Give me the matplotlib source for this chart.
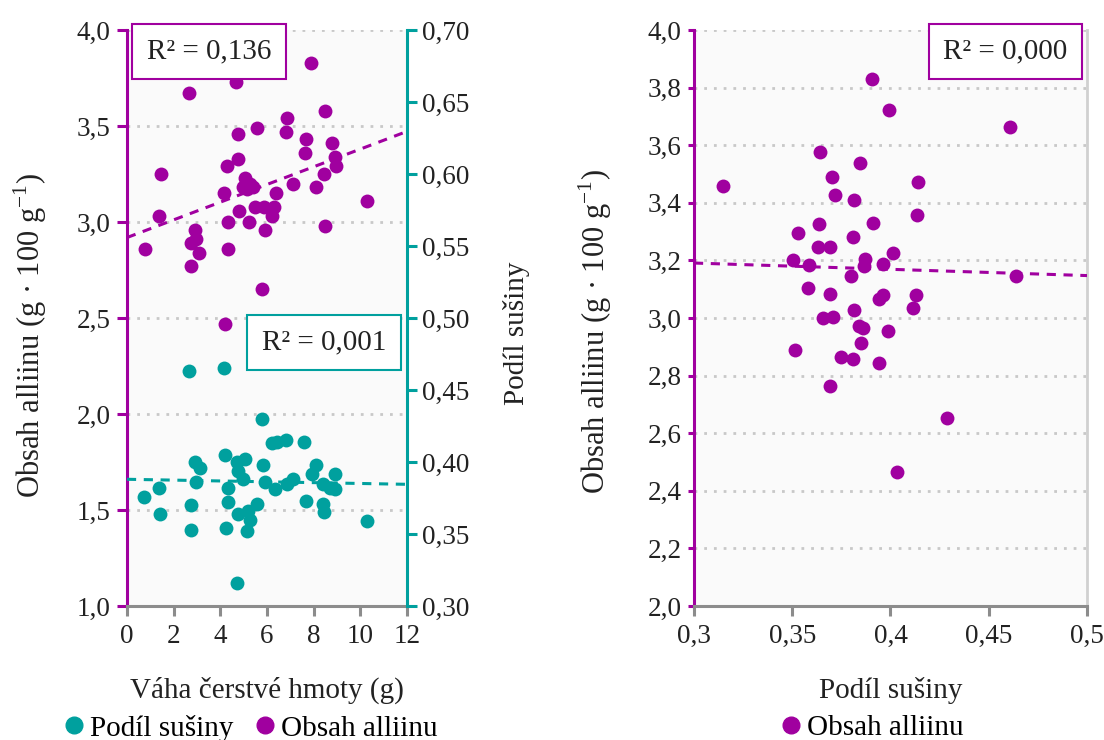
import numpy as np
import matplotlib
matplotlib.use('Agg')
import matplotlib.pyplot as plt
from matplotlib.ticker import FuncFormatter, MultipleLocator
from matplotlib.lines import Line2D

plt.rcParams['font.family'] = ['Liberation Serif', 'DejaVu Serif']
plt.rcParams['mathtext.fontset'] = 'custom'
plt.rcParams['mathtext.rm'] = 'Liberation Serif'

PURPLE = '#a0009f'
TEAL = '#00a09e'
GREY = '#8c8c8c'
TXT = '#222222'

# left panel: fresh weight (g) vs alliin content
weight_a = [7.87, 4.67, 2.66, 8.47, 6.87, 5.57, 6.80, 4.74, 7.67, 8.77, 7.62, 8.91,
            8.94, 4.74, 4.27, 8.44, 1.46, 7.13, 8.10, 5.06, 5.27, 4.98, 5.41, 5.13,
            4.14, 6.39, 10.27, 4.80, 5.49, 5.87, 6.30, 6.20, 5.23, 4.34, 5.90, 8.50,
            1.37, 0.77, 2.93, 2.96, 2.74, 3.09, 4.33, 2.74, 5.79, 4.21]
alliin_a = [3.83, 3.73, 3.67, 3.58, 3.54, 3.49, 3.47, 3.46, 3.43, 3.41, 3.36, 3.34,
            3.29, 3.33, 3.29, 3.25, 3.25, 3.20, 3.18, 3.23, 3.20, 3.18, 3.18, 3.17,
            3.15, 3.15, 3.11, 3.06, 3.08, 3.08, 3.08, 3.03, 3.00, 3.00, 2.96, 2.98,
            3.03, 2.86, 2.96, 2.91, 2.89, 2.84, 2.86, 2.77, 2.65, 2.47]

# left panel: fresh weight (g) vs dry matter share
weight_d = [2.66, 4.16, 5.77, 6.20, 6.41, 6.81, 7.59, 2.93, 3.13, 4.21, 4.70, 5.06,
            4.77, 4.99, 5.84, 5.91, 8.10, 7.92, 8.91, 2.96, 1.37, 0.74, 4.31, 6.34,
            6.84, 7.13, 8.41, 8.70, 8.91, 2.73, 4.31, 1.43, 4.77, 5.20, 5.56, 5.27,
            7.67, 8.41, 8.44, 2.73, 4.26, 5.13, 10.27, 4.73]
drymatter_d = [0.463, 0.465, 0.430, 0.413, 0.414, 0.415, 0.414, 0.400, 0.396, 0.405,
               0.400, 0.402, 0.394, 0.388, 0.398, 0.386, 0.398, 0.392, 0.392, 0.386,
               0.382, 0.376, 0.382, 0.381, 0.385, 0.388, 0.385, 0.382, 0.381, 0.370,
               0.372, 0.364, 0.364, 0.366, 0.371, 0.360, 0.373, 0.371, 0.365, 0.353,
               0.354, 0.352, 0.359, 0.316]

# right panel: dry matter share vs alliin content
drymatter_r = [0.3904, 0.3991, 0.4608, 0.3149, 0.3643, 0.3845, 0.3701, 0.4142, 0.3718,
               0.3814, 0.4133, 0.3913, 0.3531, 0.3636, 0.3807, 0.3633, 0.3692, 0.4011,
               0.3505, 0.3587, 0.3870, 0.3865, 0.3960, 0.3797, 0.4639, 0.3580, 0.3692,
               0.3960, 0.3943, 0.4130, 0.4116, 0.3814, 0.3658, 0.3709, 0.3841, 0.3858,
               0.3989, 0.3848, 0.3514, 0.3748, 0.3811, 0.3943, 0.3692, 0.4289, 0.4035]
alliin_r = [3.829, 3.722, 3.664, 3.458, 3.576, 3.537, 3.491, 3.473, 3.427, 3.410,
            3.357, 3.331, 3.294, 3.325, 3.282, 3.245, 3.248, 3.227, 3.201, 3.184,
            3.204, 3.181, 3.188, 3.146, 3.146, 3.105, 3.082, 3.080, 3.065, 3.080,
            3.034, 3.028, 3.001, 3.002, 2.972, 2.964, 2.956, 2.912, 2.889, 2.864,
            2.858, 2.843, 2.764, 2.652, 2.466]

r2_labels = ['R² = 0,136', 'R² = 0,001', 'R² = 0,000']

TICK_FS = 19.5
LAB_FS = 21


def comma(fmt):
    return FuncFormatter(lambda v, p: (fmt % v).replace('.', ','))


def style_axes(ax):
    ax.set_facecolor('#fafafa')
    ax.grid(axis='y', linestyle=(0, (1, 2.5)), color='#c8c8c8', linewidth=2)
    ax.set_axisbelow(True)
    ax.spines['top'].set_visible(False)
    ax.spines['bottom'].set_color(GREY)
    ax.spines['bottom'].set_linewidth(2.2)
    ax.spines['left'].set_color(PURPLE)
    ax.spines['left'].set_linewidth(2.2)
    ax.tick_params(axis='x', colors=GREY, width=2.2, length=7, labelsize=TICK_FS,
                   labelcolor=TXT, pad=6)
    ax.tick_params(axis='y', colors=PURPLE, width=2.2, length=7, labelsize=TICK_FS,
                   labelcolor=TXT, pad=5)


def trend(ax, x, y, color):
    k, q = np.polyfit(x, y, 1)
    lo, hi = ax.get_xlim()
    xs = np.array([lo, hi])
    ax.plot(xs, k * xs + q, color=color, linestyle=(0, (3, 2.5)), linewidth=2.2, zorder=3)


def r2_box(ax, x, y, label, ec, ha, va):
    ax.text(x, y, label, transform=ax.transAxes, fontsize=LAB_FS, va=va, ha=ha,
            color=TXT, zorder=6,
            bbox=dict(boxstyle='square,pad=0.5', fc='white', ec=ec, lw=1.5))


fig = plt.figure(figsize=(11.04, 7.4), dpi=100)

# ---- left panel
ax1 = fig.add_axes([0.115, 0.181, 0.2536, 0.7784])
style_axes(ax1)
ax1.set_xlim(0, 12)
ax1.set_ylim(1.0, 4.0)
ax1.xaxis.set_major_locator(MultipleLocator(2))
ax1.yaxis.set_major_locator(MultipleLocator(0.5))
ax1.yaxis.set_major_formatter(comma('%.1f'))
ax1.xaxis.set_major_formatter(comma('%g'))
ax1.spines['right'].set_visible(False)

ax2 = ax1.twinx()
ax2.set_ylim(0.30, 0.70)
ax2.yaxis.set_major_locator(MultipleLocator(0.05))
ax2.yaxis.set_major_formatter(comma('%.2f'))
for s in ['top', 'left', 'bottom']:
    ax2.spines[s].set_visible(False)
ax2.spines['right'].set_color(TEAL)
ax2.spines['right'].set_linewidth(2.2)
ax2.tick_params(axis='y', colors=TEAL, width=2.2, length=7, labelsize=TICK_FS,
                labelcolor=TXT, pad=4)

ax1.scatter(weight_a, alliin_a, s=100, color=PURPLE, zorder=4, linewidths=0)
trend(ax1, weight_a, alliin_a, PURPLE)
ax2.scatter(weight_d, drymatter_d, s=100, color=TEAL, zorder=4, linewidths=0)
trend(ax2, weight_d, drymatter_d, TEAL)

ax1.set_xlabel('Váha čerstvé hmoty (g)', fontsize=LAB_FS, labelpad=20, color=TXT)
ax1.set_ylabel(r'Obsah alliinu (g · 100 g$^{-1}$)', fontsize=LAB_FS + 1, color=TXT,
               va='center')
ax1.yaxis.set_label_coords(-0.345, 0.47)
ax2.set_ylabel('Podíl sušiny', fontsize=LAB_FS, color=TXT, va='center')
ax2.yaxis.set_label_coords(1.39, 0.474)

r2_box(ax1, 0.07, 0.985, r2_labels[0], PURPLE, 'left', 'top')
r2_box(ax1, 0.926, 0.458, r2_labels[1], TEAL, 'right', 'center')

h_teal = Line2D([], [], marker='o', linestyle='none', color=TEAL, markersize=12)
h_purp = Line2D([], [], marker='o', linestyle='none', color=PURPLE, markersize=12)
fig.legend([h_teal, h_purp], ['Podíl sušiny', 'Obsah alliinu'], ncol=2, frameon=False,
           loc='center', bbox_to_anchor=(0.225, 0.016), fontsize=LAB_FS,
           handletextpad=0.05, columnspacing=0.6, handlelength=1.0)

# ---- right panel
ax3 = fig.add_axes([0.6286, 0.181, 0.356, 0.7784])
style_axes(ax3)
ax3.set_xlim(0.3, 0.5)
ax3.set_ylim(2.0, 4.0)
ax3.xaxis.set_major_locator(MultipleLocator(0.05))
ax3.yaxis.set_major_locator(MultipleLocator(0.2))
ax3.xaxis.set_major_formatter(comma('%g'))
ax3.yaxis.set_major_formatter(comma('%.1f'))
ax3.spines['right'].set_color('#d0d0d0')
ax3.spines['right'].set_linewidth(2)
ax3.tick_params(axis='y', length=4)

ax3.scatter(drymatter_r, alliin_r, s=100, color=PURPLE, zorder=4, linewidths=0)
trend(ax3, drymatter_r, alliin_r, PURPLE)
ax3.set_xlabel('Podíl sušiny', fontsize=LAB_FS, labelpad=20, color=TXT)
ax3.set_ylabel(r'Obsah alliinu (g · 100 g$^{-1}$)', fontsize=LAB_FS + 1, color=TXT,
               va='center')
ax3.yaxis.set_label_coords(-0.252, 0.476)
r2_box(ax3, 0.95, 0.985, r2_labels[2], PURPLE, 'right', 'top')

fig.legend([h_purp], ['Obsah alliinu'], frameon=False, loc='center',
           bbox_to_anchor=(0.788, 0.016), fontsize=LAB_FS, handletextpad=0.05,
           handlelength=1.0)

fig.savefig('out.png', dpi=100)
